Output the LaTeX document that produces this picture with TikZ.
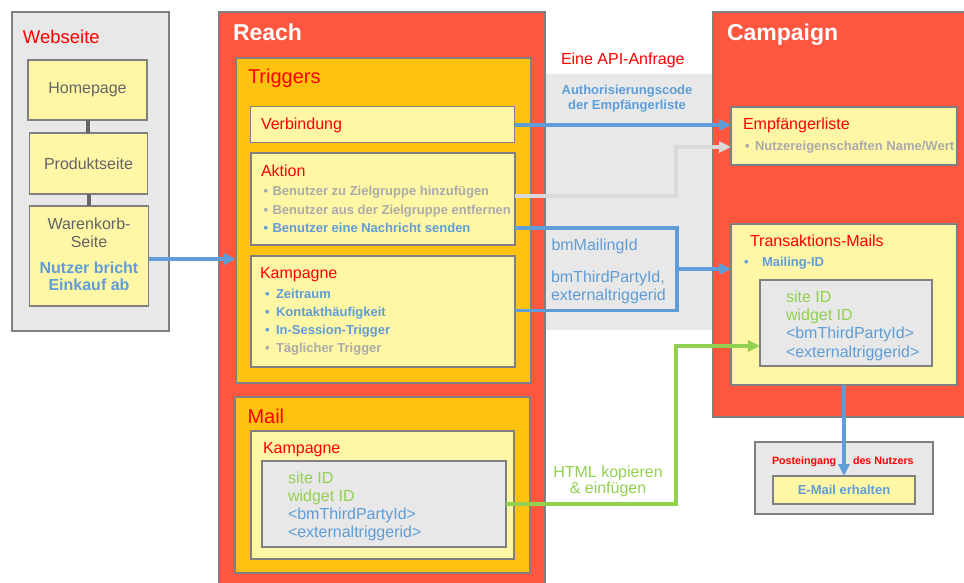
\documentclass[tikz,border=0pt]{standalone}
\usepackage{fontspec}
\setmainfont{Liberation Sans}
\usetikzlibrary{arrows.meta,calc}

\definecolor{reachred}{RGB}{255,86,64}
\definecolor{amber}{RGB}{255,194,14}
\definecolor{paleyellow}{RGB}{255,247,166}
\definecolor{panelgray}{RGB}{232,232,232}
\definecolor{boxline}{RGB}{128,128,128}
\definecolor{titlered}{RGB}{255,0,0}
\definecolor{bmblue}{RGB}{95,157,215}
\definecolor{bmgreen}{RGB}{146,208,80}
\definecolor{pagetext}{RGB}{100,100,100}
\definecolor{fadetext}{RGB}{170,170,170}
\definecolor{fadeline}{RGB}{217,217,217}
\definecolor{linkgray}{RGB}{100,100,100}

\begin{document}
\begin{tikzpicture}[x=1pt,y=-1pt]
        \tikzstyle{every node}=[inner sep=0pt, outer sep=0pt]
        \tikzstyle{box}=[draw=boxline, line width=1.5pt, anchor=north west]
        \tikzstyle{pagebox}=[box, fill=paleyellow, text=pagetext, font=\fontsize{16}{18}\selectfont]
        \tikzstyle{pagelabel}=[anchor=base, text=pagetext, font=\fontsize{16}{18}\selectfont]
        \tikzstyle{head}=[anchor=base west, text=white, font=\bfseries\fontsize{23}{26}\selectfont]
        \tikzstyle{title}=[anchor=base west, text=titlered, font=\fontsize{16}{18}\selectfont]
        \tikzstyle{bigtitle}=[title, font=\fontsize{20}{22}\selectfont]
        \tikzstyle{item}=[anchor=base west, font=\bfseries\fontsize{13}{18}\selectfont]
        \tikzstyle{code}=[anchor=base west, font=\fontsize{16}{18}\selectfont]
        \tikzstyle{conn}=[line width=3.5pt, draw=bmblue]
        \tikzstyle{tip}=[-{Triangle[length=12pt,width=11pt]}]
        \useasboundingbox (0,0) rectangle (964,583);

        % API band behind the two systems
        \fill[panelgray] (545,74) rectangle (712,330);
        \node[title] (apititle) at (561,65) {Eine API-Anfrage};
        \node[item, anchor=base, text=bmblue] (auth1) at (627,95) {Authorisierungscode};
        \node[item, anchor=base, text=bmblue] (auth2) at (627,110) {der Empfängerliste};

        % Webseite
        \node[box, fill=panelgray, minimum width=157, minimum height=319] (webseite) at (12,12) {};
        \node[title, font=\fontsize{18.5}{20}\selectfont] (webseitetitle) at (23,43.5) {Webseite};
        \node[pagebox, minimum width=119, minimum height=60] (homepage) at (28,60) {Homepage};
        \node[pagebox, minimum width=118, minimum height=61] (produkt) at (29.5,133) {Produktseite};
        \node[pagebox, minimum width=119, minimum height=100] (warenkorb) at (29.5,206) {};
        \node[pagelabel] (waren1) at (89,229) {Warenkorb-};
        \node[pagelabel] (waren2) at (89,247) {Seite};
        \node[pagelabel, text=bmblue, font=\bfseries\fontsize{16}{18}\selectfont] (abbruch1) at (89,273) {Nutzer bricht};
        \node[pagelabel, text=bmblue, font=\bfseries\fontsize{16}{18}\selectfont] (abbruch2) at (89,290) {Einkauf ab};

        % Reach
        \node[box, fill=reachred, minimum width=326, minimum height=600] (reach) at (219,12) {};
        \node[head] (reachtitle) at (233,41) {Reach};
        \node[box, fill=amber, minimum width=295, minimum height=325] (triggers) at (236,58) {};
        \node[bigtitle] (triggerstitle) at (248,84) {Triggers};
        \node[box, fill=paleyellow, minimum width=264, minimum height=36] (verbindung) at (250.5,106.5) {};
        \node[title] (verbindungtitle) at (261,129.5) {Verbindung};
        \node[box, fill=paleyellow, minimum width=264, minimum height=92] (aktion) at (251,153) {};
        \node[title] (aktiontitle) at (261,176) {Aktion};
        \foreach \txt/\col/\y in {Benutzer zu Zielgruppe hinzufügen/fadetext/196,
                Benutzer aus der Zielgruppe entfernen/fadetext/214,
                Benutzer eine Nachricht senden/bmblue/232}
        {
                \node[item, text=\col] at (263.5,\y) {•};
                \node[item, text=\col] at (272.5,\y) {\txt};
        }
        \node[box, fill=paleyellow, minimum width=264, minimum height=111] (kampagne) at (251,256) {};
        \node[title] (kampagnetitle) at (260,278.5) {Kampagne};
        \foreach \txt/\col/\y in {Zeitraum/bmblue/298, Kontakthäufigkeit/bmblue/316,
                In-Session-Trigger/bmblue/334, Täglicher Trigger/fadetext/352}
        {
                \node[item, text=\col] at (265,\y) {•};
                \node[item, text=\col] at (276,\y) {\txt};
        }
        \node[box, fill=amber, minimum width=295, minimum height=176] (mail) at (235,397) {};
        \node[bigtitle] (mailtitle) at (247.5,423.5) {Mail};
        \node[box, fill=paleyellow, minimum width=263, minimum height=128] (mailkampagne) at (251,431) {};
        \node[title] (mailkampagnetitle) at (263,453) {Kampagne};
        \node[box, fill=panelgray, minimum width=244, minimum height=86] (mailcode) at (262,461) {};
        \foreach \txt/\col/\y in {site ID/bmgreen/483, widget ID/bmgreen/501,
                <bmThirdPartyId>/bmblue/519, <externaltriggerid>/bmblue/537}
                \node[code, text=\col] at (288,\y) {\txt};

        % Campaign
        \node[box, fill=reachred, minimum width=260, minimum height=405] (campaign) at (712.5,12) {};
        \node[head] (campaigntitle) at (727,41) {Campaign};
        \node[box, fill=paleyellow, minimum width=226, minimum height=58] (empf) at (731,107) {};
        \node[title] (empftitle) at (743,130) {Empfängerliste};
        \node[item, text=fadetext] at (745,151) {•};
        \node[item, text=fadetext] (nutzereig) at (755,151) {Nutzereigenschaften Name/Wert};
        \node[box, fill=paleyellow, minimum width=226, minimum height=161] (transmails) at (731,224) {};
        \node[title] (transtitle) at (750,246) {Transaktions-Mails};
        \node[item, text=bmblue] at (744,266) {•};
        \node[item, text=bmblue] (mailingid) at (762,266) {Mailing-ID};
        \node[box, fill=panelgray, minimum width=172, minimum height=86] (tmcode) at (760,280) {};
        \foreach \txt/\col/\y in {site ID/bmgreen/302, widget ID/bmgreen/320,
                <bmThirdPartyId>/bmblue/338, <externaltriggerid>/bmblue/357}
                \node[code, text=\col] at (786,\y) {\txt};

        % Posteingang
        \node[box, fill=panelgray, minimum width=178, minimum height=72] (inbox) at (755,442) {};
        \node[anchor=base west, text=titlered, font=\bfseries\fontsize{10.7}{12}\selectfont] (inbox1) at (772,464) {Posteingang};
        \node[anchor=base west, text=titlered, font=\bfseries\fontsize{10.7}{12}\selectfont] (inbox2) at (853,464) {des Nutzers};
        \node[box, fill=paleyellow, minimum width=142, minimum height=28, text=bmblue, font=\bfseries\fontsize{13}{15}\selectfont] (email) at (773,476) {E-Mail erhalten};

        % labels on the connectors
        \node[code, text=bmblue] (mailingidlabel) at (551.5,250) {bmMailingId};
        \node[code, text=bmblue] (partylabel1) at (551,282) {bmThirdPartyId,};
        \node[code, text=bmblue] (partylabel2) at (551,300) {externaltriggerid};
        \node[code, anchor=base, text=bmgreen] (html1) at (608,477) {HTML kopieren};
        \node[code, anchor=base, text=bmgreen] (html2) at (608,493.5) {\& einfügen};

        % connectors
        \draw[line width=4pt, linkgray] (homepage.south) -- (homepage.south |- produkt.north);
        \draw[line width=4pt, linkgray] (produkt.south) -- (produkt.south |- warenkorb.north);
        \draw[conn, tip] ($(warenkorb.north east)+(0,53)$) -- ($(triggers.north west)+(0,201)$);
        \draw[conn, tip] ($(verbindung.north east)+(0,18.5)$) -- ($(empf.north west)+(0,18)$);
        \draw[conn, draw=fadeline, tip] ($(aktion.north east)+(0,43)$) -- (676,196) |- ($(empf.north west)+(0,40)$);
        \draw[conn] ($(aktion.north east)+(0,75)$) -- (677,228) -- (677,310.5) -- ($(kampagne.north east)+(0,54.5)$);
        \coordinate (split) at (677,269);
        \draw[conn, tip] (split) -- ($(transmails.north west)+(0,45)$);
        \draw[conn, draw=bmgreen, tip] (mailcode.east) -- (676,504) |- ($(tmcode.north west)+(0,66)$);
        \draw[conn, tip] (transmails.south) -- (email.north);
\end{tikzpicture}
\end{document}
